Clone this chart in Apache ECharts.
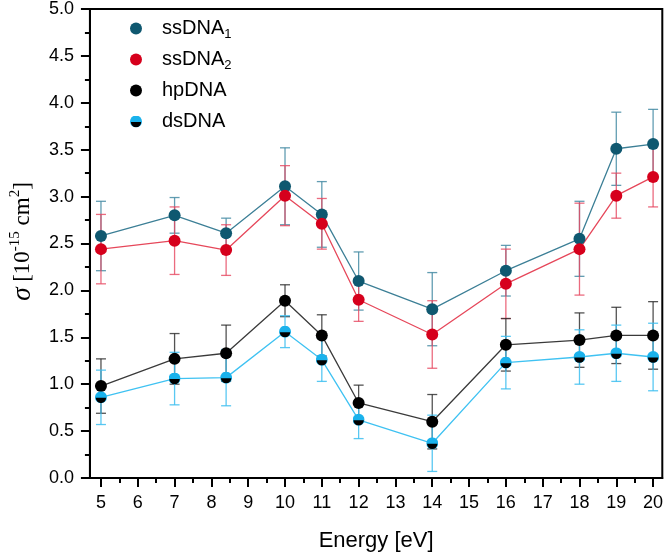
<!DOCTYPE html>
<html>
<head>
<meta charset="utf-8">
<script src="https://cdn.jsdelivr.net/npm/echarts@6/dist/echarts.min.js"></script>
<style>html,body{margin:0;padding:0;background:#fff}#c{width:666px;height:559px}</style>
</head>
<body>
<div id="c"></div>
<script>
const energies = [5, 7, 8.4, 10, 11, 12, 14, 16, 18, 19, 20];
const ssDNA1 = [2.58, 2.80, 2.61, 3.11, 2.81, 2.10, 1.80, 2.21, 2.55, 3.51, 3.56];
const ssDNA1Err = [0.37, 0.19, 0.16, 0.41, 0.35, 0.31, 0.39, 0.27, 0.40, 0.39, 0.37];
const ssDNA2 = [2.44, 2.53, 2.43, 3.01, 2.71, 1.90, 1.53, 2.07, 2.44, 3.01, 3.21];
const ssDNA2Err = [0.37, 0.36, 0.27, 0.32, 0.27, 0.23, 0.36, 0.37, 0.49, 0.24, 0.32];
const hpDNA = [0.98, 1.27, 1.33, 1.89, 1.52, 0.80, 0.60, 1.42, 1.47, 1.52, 1.52];
const hpDNAErr = [0.29, 0.27, 0.30, 0.17, 0.22, 0.19, 0.29, 0.28, 0.29, 0.30, 0.36];
const dsDNA = [0.86, 1.06, 1.07, 1.56, 1.26, 0.62, 0.37, 1.23, 1.29, 1.33, 1.29];
const dsDNAErr = [0.29, 0.28, 0.30, 0.17, 0.23, 0.20, 0.30, 0.28, 0.29, 0.30, 0.36];
const seriesNames = ['ssDNA1', 'ssDNA2', 'hpDNA', 'dsDNA'];
const xTicks = [5, 6, 7, 8, 9, 10, 11, 12, 13, 14, 15, 16, 17, 18, 19, 20];
const xMinorTicks = [5.5, 6.5, 7.5, 8.5, 9.5, 10.5, 11.5, 12.5, 13.5, 14.5, 15.5, 16.5, 17.5, 18.5, 19.5];
const xAxisTitle = 'Energy [eV]';
const yAxisTitle = '{i|σ} [10{sup|-15} cm{sup|2}]';

const markerColors = ['#0f5870', '#d6001c', '#000000', '#1ab2ec'];
const lineColors = ['#3c7f96', '#e6475a', '#3a3a3a', '#3fc2f2'];
const errColors = ['rgba(70,140,165,0.85)', 'rgba(230,70,95,0.8)', 'rgba(40,40,40,0.8)', 'rgba(60,190,240,0.85)'];

const dsSvg = "<svg xmlns='http://www.w3.org/2000/svg' width='24' height='24' viewBox='0 0 24 24'><circle cx='12' cy='12' r='12' fill='#1ab2ec'/><path d='M1.6 13 A10.4 10.4 0 0 0 22.4 13 Z' fill='#000'/></svg>";
const dsSymbol = 'image://data:image/svg+xml;charset=utf-8,' + encodeURIComponent(dsSvg);

const values = [ssDNA1, ssDNA2, hpDNA, dsDNA];
const errs = [ssDNA1Err, ssDNA2Err, hpDNAErr, dsDNAErr];

const series = [];
values.forEach((vals, k) => {
  const color = errColors[k];
  series.push({
    name: 'err' + k,
    type: 'custom',
    z: 1,
    silent: true,
    encode: { x: 0, y: 1 },
    data: energies.map((e, i) => [e, vals[i], errs[k][i]]),
    renderItem: function (params, api) {
      const x = api.value(0), y = api.value(1), d = api.value(2);
      const t = api.coord([x, y + d]);
      const b = api.coord([x, y - d]);
      const hw = 5;
      const st = { stroke: color, lineWidth: 1.3 };
      return {
        type: 'group',
        children: [
          { type: 'line', shape: { x1: t[0], y1: t[1], x2: b[0], y2: b[1] }, style: st },
          { type: 'line', shape: { x1: t[0] - hw, y1: t[1], x2: t[0] + hw, y2: t[1] }, style: st },
          { type: 'line', shape: { x1: b[0] - hw, y1: b[1], x2: b[0] + hw, y2: b[1] }, style: st }
        ]
      };
    }
  });
});
values.forEach((vals, k) => {
  series.push({
    name: seriesNames[k],
    type: 'line',
    z: 3,
    data: energies.map((e, i) => [e, vals[i]]),
    symbol: k === 3 ? dsSymbol : 'circle',
    symbolSize: 12,
    showSymbol: true,
    itemStyle: { color: markerColors[k] },
    lineStyle: { color: lineColors[k], width: 1.3 },
    emphasis: { disabled: true },
    animation: false
  });
});

const chart = echarts.init(document.getElementById('c'), null, { renderer: 'canvas' });
chart.setOption({
  animation: false,
  backgroundColor: '#fff',
  grid: { left: 83, right: 1, top: 9, bottom: 81, show: true, borderColor: '#000', borderWidth: 2, backgroundColor: 'transparent' },
  legend: {
    orient: 'vertical',
    left: 125,
    top: 11,
    itemWidth: 12,
    itemHeight: 12,
    itemGap: 6,
    selectedMode: false,
    data: seriesNames.map((n, k) => ({ name: n, icon: k === 3 ? dsSymbol : 'circle' })),
    formatter: function (name) {
      return name.indexOf('ssDNA') === 0 ? 'ssDNA{sub|' + name.slice(5) + '}' : name;
    },
    textStyle: {
      fontFamily: 'Liberation Sans', fontSize: 20, color: '#000', lineHeight: 25,
      padding: [0, 0, 0, 15],
      rich: { sub: { fontFamily: 'Liberation Sans', fontSize: 13, verticalAlign: 'bottom', lineHeight: 25, color: '#000' } }
    }
  },
  xAxis: [{
    type: 'value', min: 4.7, max: 20.25,
    name: xAxisTitle, nameLocation: 'middle', nameGap: 52,
    nameTextStyle: { fontFamily: 'Liberation Sans', fontSize: 22, color: '#000' },
    axisLine: { show: true, onZero: false, lineStyle: { color: '#000', width: 2 } },
    axisTick: { show: true, inside: false, length: 9, customValues: xTicks, lineStyle: { color: '#000', width: 2 } },
    axisLabel: { customValues: xTicks, margin: 16, fontFamily: 'Liberation Sans', fontSize: 18, color: '#000' },
    splitLine: { show: false }
  }, {
    type: 'value', min: 4.7, max: 20.25, position: 'bottom',
    axisLine: { show: false },
    axisTick: { show: true, inside: false, length: 5, customValues: xMinorTicks, lineStyle: { color: '#000', width: 2 } },
    axisLabel: { show: false },
    splitLine: { show: false }
  }],
  yAxis: {
    type: 'value', min: 0, max: 5, interval: 0.5,
    name: yAxisTitle, nameLocation: 'middle', nameGap: 50, nameRotate: 90,
    nameTextStyle: {
      fontFamily: 'Liberation Serif', fontSize: 23, color: '#000', lineHeight: 30,
      padding: [0, 0, 0, 4],
      rich: {
        i: { fontFamily: 'Liberation Serif', fontStyle: 'italic', fontSize: 27, lineHeight: 30, color: '#000' },
        sup: { fontFamily: 'Liberation Serif', fontSize: 15, verticalAlign: 'top', lineHeight: 30, color: '#000' }
      }
    },
    axisLine: { show: true, lineStyle: { color: '#000', width: 2 } },
    axisTick: { show: true, inside: false, length: 9, lineStyle: { color: '#000', width: 2 } },
    minorTick: { show: true, splitNumber: 2, length: 5, lineStyle: { color: '#000', width: 2 } },
    axisLabel: { margin: 16, fontFamily: 'Liberation Sans', fontSize: 18, color: '#000', formatter: v => v.toFixed(1) },
    splitLine: { show: false }
  },
  series: series
});
</script>
</body>
</html>
